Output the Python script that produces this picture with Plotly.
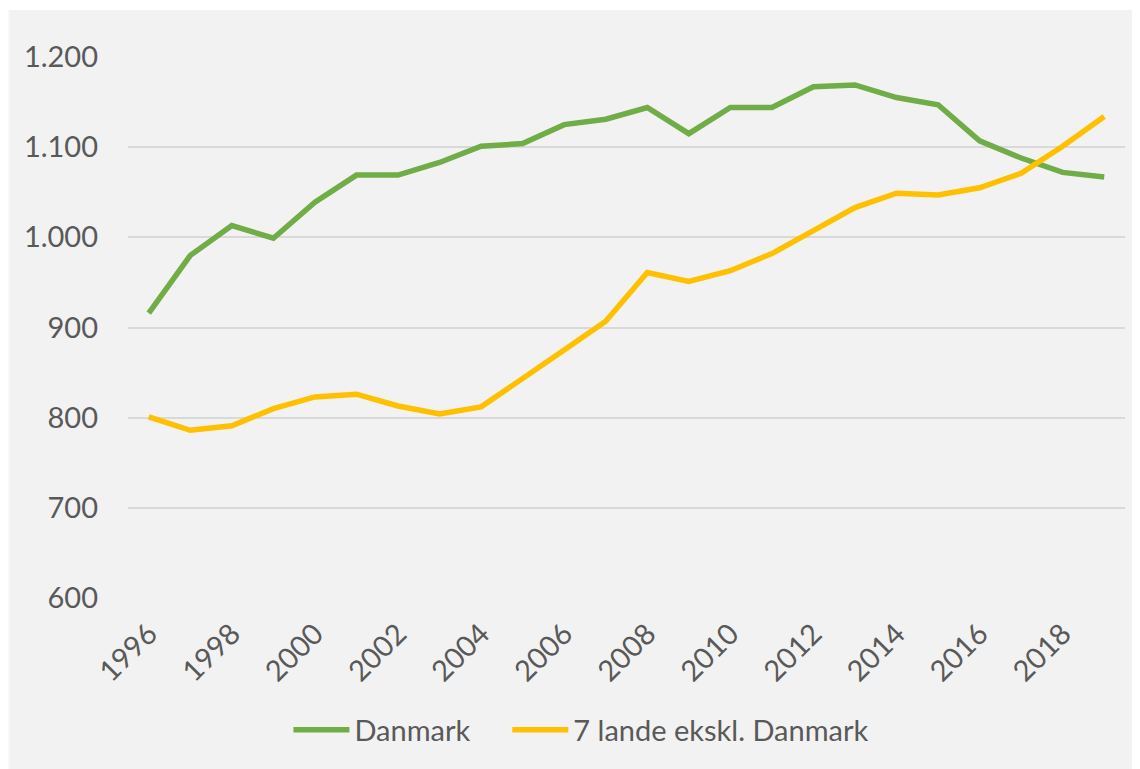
import plotly.graph_objects as go

years = list(range(1996, 2020))
danmark = [916, 980, 1013, 999, 1039, 1069, 1069, 1083, 1101, 1104, 1125, 1131,
           1144, 1115, 1144, 1144, 1167, 1169, 1155, 1147, 1107, 1088, 1072, 1067]
lande7 = [801, 786, 791, 810, 823, 826, 813, 804, 812, 843, 875, 907,
          961, 951, 963, 982, 1008, 1033, 1049, 1047, 1055, 1071, 1101, 1134]
series_names = ["Danmark", "7 lande ekskl. Danmark"]
colors = ["#70ad47", "#ffc000"]

# page offset (default body margin of the html page)
OFF = 8
W, H = 1140 - OFF, 769 - OFF
ml, mr, mt, mb = 127.5 - OFF, 15, 57 - OFF, 170.5
pw = W - ml - mr
ph = H - mt - mb

font_family = "Lato, 'Open Sans', sans-serif"
txt = "#595959"
fs = 29

fig = go.Figure()
legend_ids = ["legend", "legend2"]
for name, vals, c, lg in zip(series_names, [danmark, lande7], colors, legend_ids):
    fig.add_trace(go.Scatter(x=years, y=vals, name=name, mode="lines",
                             line=dict(color=c, width=5.5), legend=lg))

# thin white border at top/left of gray chart area
fig.add_shape(type="rect", xref="paper", yref="paper",
              x0=(0 - ml) / pw, x1=(1 - ml) / pw, y0=-mb / ph - 0.1, y1=(H - mb) / ph + 0.1,
              fillcolor="white", line=dict(width=0), layer="above")
fig.add_shape(type="rect", xref="paper", yref="paper",
              x0=-ml / pw - 0.1, x1=1.1, y0=(H - mb - 2) / ph, y1=(H - mb) / ph + 0.1,
              fillcolor="white", line=dict(width=0), layer="above")

legend_y = (H - mb - (730.5 - OFF)) / ph


def legend_at(left_page):
    return dict(orientation="h", x=(left_page - OFF - ml) / pw, xanchor="left",
                y=legend_y, yanchor="middle",
                font=dict(size=fs, color=txt), bgcolor="rgba(0,0,0,0)",
                itemwidth=56)


fig.update_layout(
    width=W, height=H,
    margin=dict(l=ml, r=mr, t=mt, b=mb, autoexpand=False),
    paper_bgcolor="#f2f2f2",
    plot_bgcolor="#f2f2f2",
    separators=",.",
    font=dict(family=font_family, size=fs, color=txt),
    showlegend=True,
    legend=legend_at(288),
    legend2=legend_at(507),
    xaxis=dict(range=[1995.5, 2019.5], tickmode="array",
               tickvals=years[::2], ticktext=[str(y) for y in years[::2]],
               tickangle=-45, showgrid=False, zeroline=False, showline=False,
               ticks="", ticklabelstandoff=12,
               tickfont=dict(size=fs, color=txt, family=font_family)),
    yaxis=dict(range=[600, 1200], dtick=100, tickformat=",d",
               showgrid=True, gridcolor="#d9d9d9", gridwidth=1.5,
               zeroline=False, showline=False, ticks="", ticklabelstandoff=29,
               tickfont=dict(size=fs, color=txt, family=font_family)),
)

fig.write_html("out.html")
